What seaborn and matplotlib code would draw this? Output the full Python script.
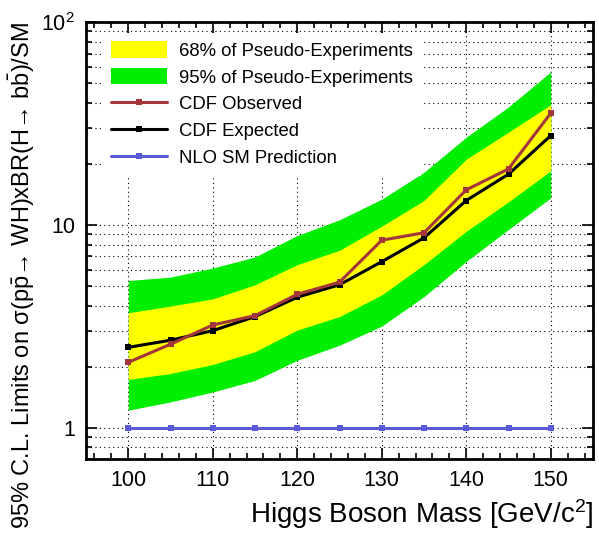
import numpy as np
import pandas as pd
import seaborn as sns
import matplotlib.pyplot as plt
from matplotlib.ticker import FixedLocator, FuncFormatter, LogLocator, NullFormatter, MultipleLocator
from matplotlib.patches import Patch
from matplotlib.lines import Line2D

# values
mass = [100, 105, 110, 115, 120, 125, 130, 135, 140, 145, 150]
observed = [2.10, 2.58, 3.21, 3.57, 4.55, 5.22, 8.41, 9.15, 14.9, 18.9, 35.6]
expected = [2.49, 2.70, 3.01, 3.53, 4.40, 5.07, 6.59, 8.64, 13.2, 17.8, 27.6]
band95_lo = [1.22, 1.34, 1.50, 1.71, 2.15, 2.55, 3.17, 4.43, 6.61, 9.5, 13.6]
band95_hi = [5.32, 5.53, 6.13, 6.95, 8.87, 10.6, 13.4, 18.2, 27.1, 38.2, 56.9]
band68_lo = [1.73, 1.85, 2.05, 2.37, 3.03, 3.53, 4.52, 6.37, 9.31, 13.0, 18.5]
band68_hi = [3.69, 3.98, 4.32, 5.07, 6.37, 7.50, 9.86, 13.2, 21.1, 28.7, 39.2]
sm_pred = [1, 1, 1, 1, 1, 1, 1, 1, 1, 1, 1]

df = pd.DataFrame({"mass": mass, "obs": observed, "exp": expected, "sm": sm_pred})

sns.set_style("ticks")
plt.rcParams['font.family'] = ['Liberation Sans', 'DejaVu Sans']
plt.rcParams['mathtext.default'] = 'regular'
plt.rcParams['text.color'] = 'black'
plt.rcParams['axes.labelcolor'] = 'black'
plt.rcParams['xtick.color'] = 'black'
plt.rcParams['ytick.color'] = 'black'

fig = plt.figure(figsize=(5.99, 5.42), dpi=100)
ax = fig.add_axes([0.1436, 0.153, 0.8464, 0.806])

yellow = '#ffff00'
green = '#00ee00'
brown = '#a2363c'
blue = '#5a5ad8'

# expected bands
ax.fill_between(mass, band95_lo, band95_hi, color=green, lw=0, zorder=1)
ax.fill_between(mass, band68_lo, band68_hi, color=yellow, lw=0, zorder=1.5)

sns.lineplot(data=df, x="mass", y="sm", color=blue, lw=2.2, marker='s', markersize=4,
             markeredgewidth=0, ax=ax, zorder=3)
sns.lineplot(data=df, x="mass", y="exp", color='black', lw=2.2, marker='s', markersize=4,
             markeredgewidth=0, ax=ax, zorder=4)
sns.lineplot(data=df, x="mass", y="obs", color=brown, lw=2.2, marker='s', markersize=4,
             markeredgewidth=0, ax=ax, zorder=5)

ax.set_yscale('log')
ax.set_xlim(95, 155)
ax.set_ylim(0.7, 100)

ax.xaxis.set_major_locator(MultipleLocator(10))
ax.xaxis.set_minor_locator(MultipleLocator(2))
ax.yaxis.set_major_locator(FixedLocator([1, 10, 100]))
ax.yaxis.set_major_formatter(FuncFormatter(lambda v, p: {1: '1', 10: '10', 100: '$10^2$'}.get(int(round(v)), '')))
ax.yaxis.set_minor_locator(LogLocator(base=10, subs=np.arange(2, 10)))
ax.yaxis.set_minor_formatter(NullFormatter())

ax.grid(True, which='major', axis='x', color='black', ls=(0, (1, 3)), lw=0.8)
ax.grid(True, which='both', axis='y', color='black', ls=(0, (1, 3)), lw=0.8)
ax.set_axisbelow(True)

ax.tick_params(which='both', direction='in', top=True, right=True, labelsize=15.5, width=1.2)
ax.tick_params(which='major', length=8, pad=8)
ax.tick_params(which='minor', length=4)
for s in ax.spines.values():
    s.set_linewidth(2)
    s.set_color('black')

ax.set_xlabel('Higgs Boson Mass [GeV/c$^2$]', fontsize=20, loc='right', labelpad=4)
ax.set_ylabel(r'95% C.L. Limits on σ(p$\bar{p}$→ WH)xBR(H→ b$\bar{b}$)/SM',
              fontsize=17, loc='top', labelpad=3)

handles = [
    Patch(facecolor=yellow, edgecolor='none'),
    Patch(facecolor=green, edgecolor='none'),
    Line2D([], [], color=brown, lw=2.2, marker='s', markersize=4, markeredgewidth=0),
    Line2D([], [], color='black', lw=2.2, marker='s', markersize=4, markeredgewidth=0),
    Line2D([], [], color=blue, lw=2.2, marker='s', markersize=4, markeredgewidth=0),
]
labels = ['68% of Pseudo-Experiments', '95% of Pseudo-Experiments', 'CDF Observed',
          'CDF Expected', 'NLO SM Prediction']
leg = ax.legend(handles, labels, loc='upper left', bbox_to_anchor=(0.017, 0.995), fontsize=13.3,
                handlelength=3.0, handleheight=1.0, handletextpad=0.65, labelspacing=0.45,
                frameon=True, fancybox=False, framealpha=1, edgecolor='white', borderpad=0.4)
leg.set_zorder(10)

fig.savefig('out.png', dpi=100)
